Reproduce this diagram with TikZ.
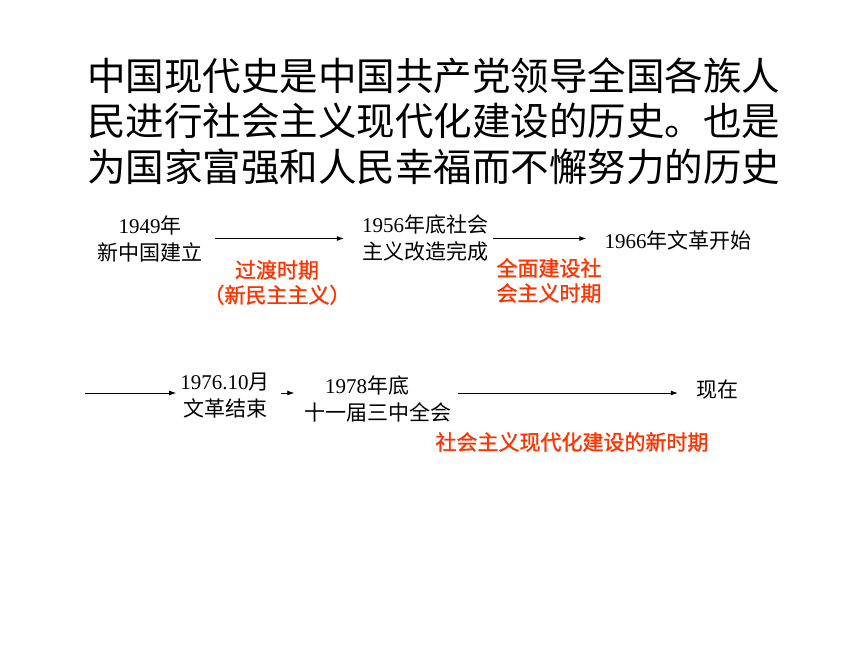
\documentclass[tikz,border=0pt]{standalone}
\usepackage{fontspec}
\setmainfont{Liberation Serif}
\newfontfamily\cjk{Noto Sans CJK SC}
\newfontfamily\cjkbold[FakeBold=1.2]{Noto Sans CJK SC}
\usepackage{xcolor}
\usetikzlibrary{arrows.meta}
\definecolor{erared}{HTML}{FF3300}
\newcommand\lat[1]{{\rmfamily #1}}

\begin{document}
\begin{tikzpicture}[
  x=1pt, y=-1pt,
  >={Latex[length=7pt,width=5pt]},
  event/.style={align=center, inner sep=0pt, font=\fontsize{21}{27}\selectfont\cjk},
  era/.style={align=center, inner sep=0pt, text=erared, font=\fontsize{21}{25}\selectfont\cjkbold},
  link/.style={->, line width=0.8pt}
]
  \useasboundingbox (0,0) rectangle (860,645);

  \node[anchor=west, align=left, inner sep=0pt, font=\fontsize{38.5}{45.5}\selectfont\cjk] (title) at (87,121)
    {中国现代史是中国共产党领导全国各族人\\民进行社会主义现代化建设的历史。也是\\为国家富强和人民幸福而不懈努力的历史};

  % first row
  \node[event] (n1949) at (150,238.5) {\lat{1949}年\\新中国建立};
  \node[event] (n1956) at (425,238.5) {\lat{1956}年底社会\\主义改造完成};
  \node[event] (n1966) at (678,240) {\lat{1966}年文革开始};
  \node[era] (e1) at (277,282.5) {过渡时期\\（新民主主义）};
  \node[era] (e2) at (549,280.5) {全面建设社\\会主义时期};

  \draw[link, shorten <=12pt, shorten >=18pt] (n1949.east) -- (n1956.west);
  \draw[link, shorten <=5pt, shorten >=18pt] (n1956.east) -- (n1956.east -| n1966.west);

  % second row
  \coordinate (start) at (85,393);
  \node[event] (n1976) at (225,395.5) {\lat{1976.10}月\\文革结束};
  \node[event] (n1978) at (378,398.5) {\lat{1978}年底\hspace*{22pt}\\十一届三中全会};
  \node[event] (now) at (717,390) {现在};
  \node[era] (e3) at (572,442) {社会主义现代化建设的新时期};

  \draw[link, shorten >=4pt] (start) -- (start -| n1976.west);
  \draw[link, shorten <=11pt, shorten >=10pt] (start -| n1976.east) -- (start -| n1978.west);
  \draw[link, shorten <=6pt, shorten >=18pt] (start -| n1978.east) -- (start -| now.west);
\end{tikzpicture}
\end{document}
